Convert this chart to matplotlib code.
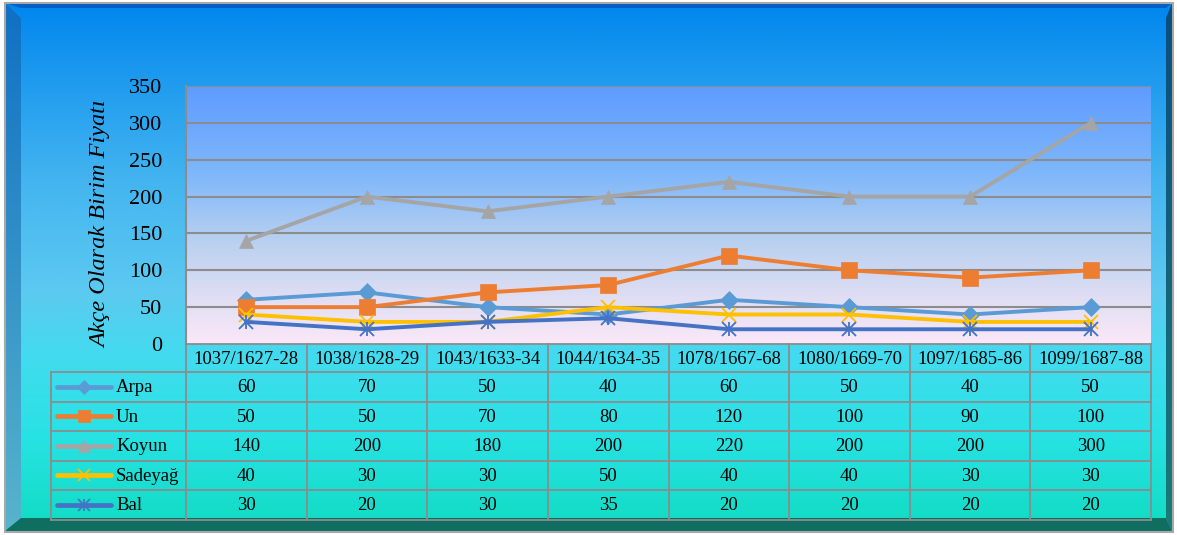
import numpy as np
import matplotlib
matplotlib.use("Agg")
import matplotlib.pyplot as plt
from matplotlib.colors import LinearSegmentedColormap
from matplotlib.patches import Polygon, Rectangle

# ---------------- data ----------------
categories = ["1037/1627-28", "1038/1628-29", "1043/1633-34", "1044/1634-35",
              "1078/1667-68", "1080/1669-70", "1097/1685-86", "1099/1687-88"]
series_names = ["Arpa", "Un", "Koyun", "Sadeyağ", "Bal"]
arpa = [60, 70, 50, 40, 60, 50, 40, 50]
un = [50, 50, 70, 80, 120, 100, 90, 100]
koyun = [140, 200, 180, 200, 220, 200, 200, 300]
sadeyag = [40, 30, 30, 50, 40, 40, 30, 30]
bal = [30, 20, 30, 35, 20, 20, 20, 20]
y_ticks = [0, 50, 100, 150, 200, 250, 300, 350]
y_label = "Akçe Olarak Birim Fiyatı"

series_values = [arpa, un, koyun, sadeyag, bal]
colors = ["#5B9BD5", "#ED7D31", "#A5A5A5", "#FFC000", "#4472C4"]
markers = ["D", "s", "^", "x", "x"]
msizes = [9, 11, 10.5, 10.5, 10]

plt.rcParams['font.family'] = ['Liberation Serif', 'DejaVu Serif']

W, H = 1177, 535
fig = plt.figure(figsize=(W / 100, H / 100), dpi=100)

# ---------------- background & bevel frame ----------------
bg = fig.add_axes([0, 0, 1, 1], zorder=-10)
bg.set_xlim(0, W)
bg.set_ylim(H, 0)
bg.axis("off")
bg_cmap = LinearSegmentedColormap.from_list("bg", [
    (0.0, "#0086ee"), (0.08, "#1292ee"), (0.35, "#46b6f0"),
    (0.55, "#5ccaf0"), (0.68, "#40dcee"), (0.82, "#28e2e4"), (1.0, "#10dcc2")])
grad = np.linspace(0, 1, 256).reshape(-1, 1)
bg.imshow(grad, cmap=bg_cmap, extent=(5, 1172, 531, 3), aspect="auto",
          interpolation="bilinear", zorder=0)
# left bevel
left_cmap = LinearSegmentedColormap.from_list("lb", [(0, "#0f70c4"), (1, "#58b4cc")])
lb = bg.imshow(grad, cmap=left_cmap, extent=(5, 21, 531, 3), aspect="auto",
               interpolation="bilinear", zorder=1)
lb.set_clip_path(Polygon([(5, 3), (21, 18), (21, 518), (5, 531)], closed=True,
                         transform=bg.transData))
# right bevel
right_cmap = LinearSegmentedColormap.from_list("rb", [(0, "#0c4c80"), (1, "#1a7a78")])
rb = bg.imshow(grad, cmap=right_cmap, extent=(1166, 1172, 531, 3), aspect="auto",
               interpolation="bilinear", zorder=1)
rb.set_clip_path(Polygon([(1172, 3), (1166, 18), (1166, 518), (1172, 531)], closed=True,
                         transform=bg.transData))
# top bevel
bg.add_patch(Polygon([(5, 3), (1172, 3), (1166, 8), (21, 8)], closed=True,
                     facecolor="#0060c4", edgecolor="none", zorder=2))
# bottom bevel
bg.add_patch(Polygon([(5, 531), (1172, 531), (1166, 518), (21, 518)], closed=True,
                     facecolor="#0f6e60", edgecolor="none", zorder=2))
bg.add_patch(Rectangle((4.5, 2.5), 1168, 529, fill=False, edgecolor="#a8a8a8",
                       lw=1.5, zorder=3))

# ---------------- main plot ----------------
n = len(categories)
x = np.arange(n)
ax = fig.add_axes([186 / W, (H - 344) / H, (1151 - 186) / W, (344 - 86) / H])
ax.set_xlim(-0.5, n - 0.5)
ax.set_ylim(0, 350)
pa_cmap = LinearSegmentedColormap.from_list("pa", [
    (0.0, "#5e9bff"), (0.35, "#80b8fa"), (0.6, "#b8d0f0"), (0.85, "#e4e0f4"), (1.0, "#fae8f8")])
ax.imshow(grad, cmap=pa_cmap, extent=(-0.5, n - 0.5, 0, 350), aspect="auto",
          interpolation="bilinear", zorder=0)
for t in y_ticks[1:]:
    ax.axhline(t, color="#8c8c8c", lw=1.5, zorder=1)
for sp in ["top", "right", "bottom"]:
    ax.spines[sp].set_visible(False)
ax.spines["left"].set_color("#8c8c8c")
ax.spines["left"].set_linewidth(1.5)
ax.set_yticks(y_ticks)
ax.set_yticklabels([str(t) for t in y_ticks], fontsize=16)
ax.tick_params(axis="y", length=0, pad=17)
ax.set_xticks([])

for vals, c, m, ms in zip(series_values, colors, markers, msizes):
    mew = 1.3 if m == "x" else 0.5
    ax.plot(x, vals, color=c, lw=2.8, marker=m, ms=ms, mec=c, mfc=c, mew=mew,
            zorder=3, solid_joinstyle="round")
# asterisk vertical stroke for Bal
ax.plot(x, bal, color=colors[4], lw=0, marker="|", ms=10, mew=1.3, zorder=4)

fig.text(101 / W, (H - 224) / H, y_label, rotation=90, style="italic",
         fontsize=17.5, ha="center", va="center")

# ---------------- data table ----------------
colw = (1151 - 186) / n
def px2cat(px):
    return (px - 186) / colw - 0.5

tab = fig.add_axes([51 / W, (H - 520) / H, (1151 - 51) / W, (520 - 344) / H])
tab.set_xlim(px2cat(51), n - 0.5)
tab.set_ylim(520, 344)
tab.axis("off")
row_edges = [344, 372, 401.5, 431, 460.5, 490, 520]
gc = "#8c8c8c"
glw = 1.3
# horizontal lines
tab.plot([-0.5, n - 0.5], [row_edges[0]] * 2, color=gc, lw=glw, clip_on=False)
for ye in row_edges[1:]:
    tab.plot([px2cat(51), n - 0.5], [ye, ye], color=gc, lw=glw, clip_on=False)
# vertical lines
tab.plot([px2cat(51)] * 2, [row_edges[1], row_edges[-1]], color=gc, lw=glw, clip_on=False)
for i in range(n + 1):
    tab.plot([i - 0.5] * 2, [row_edges[0], row_edges[-1]], color=gc, lw=glw, clip_on=False)
# header
for i, cat in enumerate(categories):
    tab.text(i, (row_edges[0] + row_edges[1]) / 2 + 1, cat, ha="center", va="center",
             fontsize=13.5)
# rows
for r, (name, vals, c, m, ms) in enumerate(zip(series_names, series_values, colors,
                                               markers, msizes)):
    yc = (row_edges[r + 1] + row_edges[r + 2]) / 2
    for i, v in enumerate(vals):
        tab.text(i, yc + 1, str(v), ha="center", va="center", fontsize=13.5)
    xs = [px2cat(57), px2cat(111)]
    tab.plot(xs, [yc, yc], color=c, lw=3.4, solid_capstyle="round", clip_on=False)
    mew = 1.2 if m == "x" else 0.5
    tab.plot([px2cat(84)], [yc], color=c, marker=m, ms=ms * 0.8, mec=c, mfc=c,
             mew=mew, clip_on=False)
    if name == "Bal":
        tab.plot([px2cat(84)], [yc], color=c, marker="|", ms=ms * 0.8, mew=1.2,
                 clip_on=False)
    tab.text(px2cat(116), yc + 1, name, ha="left", va="center", fontsize=13.5)

fig.savefig("out.png", dpi=100)
